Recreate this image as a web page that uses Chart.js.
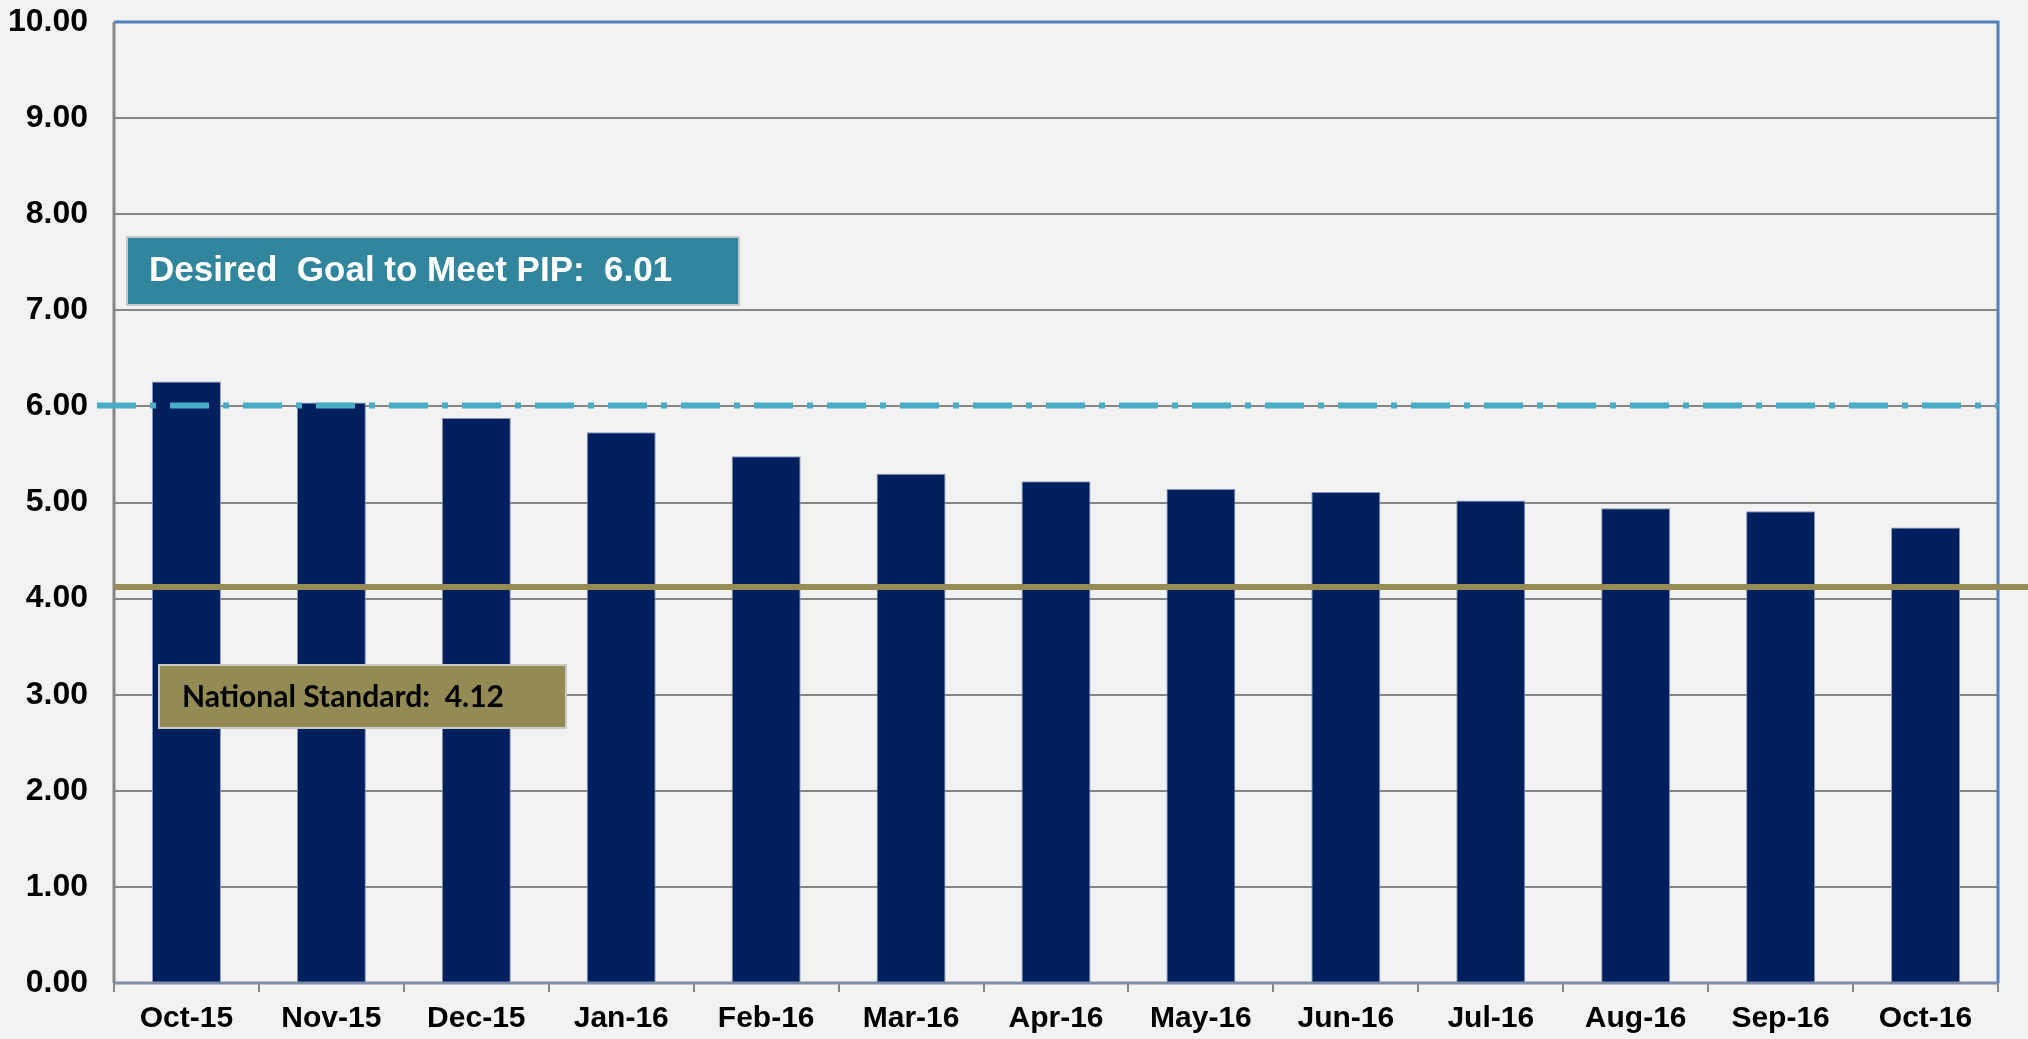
<!DOCTYPE html>
<html>
<head>
<meta charset="utf-8">
<script src="https://cdn.jsdelivr.net/npm/chart.js@4"></script>
<style>
  html, body { margin: 0; padding: 0; background: #f2f2f2; overflow: hidden; }
  canvas { display: block; }
</style>
</head>
<body>
<canvas id="chart" width="2028" height="1039"></canvas>
<script>
const months = ["Oct-15", "Nov-15", "Dec-15", "Jan-16", "Feb-16", "Mar-16", "Apr-16",
  "May-16", "Jun-16", "Jul-16", "Aug-16", "Sep-16", "Oct-16"];
const rates = [6.26, 6.04, 5.88, 5.73, 5.48, 5.30, 5.22, 5.14, 5.11, 5.02, 4.94, 4.91, 4.74];
const goalValue = 6.01;
const nationalValue = 4.12;
const goalText = "Desired  Goal to Meet PIP:  6.01";
const nationalText = "National Standard:  4.12";

const fontMain = "'Liberation Sans', Arial, sans-serif";

// frame, reference lines and the two text boxes
const overlay = {
  id: "overlay",
  beforeDraw(chart) {
    const c = chart.ctx;
    c.save();
    c.fillStyle = "#f2f2f2";
    c.fillRect(0, 0, chart.width, chart.height);
    c.restore();
  },
  afterDatasetsDraw(chart) {
    const c = chart.ctx;
    const a = chart.chartArea;
    const y = chart.scales.y;
    c.save();

    // plot frame
    c.lineWidth = 3;
    c.strokeStyle = "#4f81bd";
    c.beginPath();
    c.moveTo(a.left, a.top);
    c.lineTo(a.right, a.top);
    c.lineTo(a.right, a.bottom);
    c.stroke();
    c.strokeStyle = "#868686";
    c.beginPath();
    c.moveTo(a.left, a.top);
    c.lineTo(a.left, a.bottom);
    c.stroke();
    c.strokeStyle = "#7f8ea8";
    c.beginPath();
    c.moveTo(a.left, a.bottom);
    c.lineTo(a.right, a.bottom);
    c.stroke();

    // goal line (dash-dot)
    const gy = y.getPixelForValue(goalValue);
    c.strokeStyle = "#4bacc6";
    c.lineWidth = 6;
    c.setLineDash([39, 14, 6, 14]);
    c.beginPath();
    c.moveTo(97, gy);
    c.lineTo(a.right, gy);
    c.stroke();
    c.setLineDash([]);

    // national standard line
    const ny = y.getPixelForValue(nationalValue);
    c.strokeStyle = "#978c55";
    c.lineWidth = 6;
    c.beginPath();
    c.moveTo(a.left, ny);
    c.lineTo(chart.width, ny);
    c.stroke();

    // goal box
    c.fillStyle = "#31859c";
    c.fillRect(127, 237, 612, 68);
    c.strokeStyle = "#c8c8c8";
    c.lineWidth = 2;
    c.strokeRect(127, 237, 612, 68);
    c.fillStyle = "#ffffff";
    c.font = "bold 35px " + fontMain;
    c.textBaseline = "middle";
    c.textAlign = "left";
    c.fillText(goalText, 149, 271);

    // national box
    c.fillStyle = "#948a54";
    c.fillRect(159, 665, 407, 63);
    c.strokeStyle = "#c8c8c8";
    c.strokeRect(159, 665, 407, 63);
    c.fillStyle = "#000000";
    c.font = "bold 30px Lato, 'Open Sans', sans-serif";
    c.fillText(nationalText, 182, 697);

    c.restore();
  }
};

const ctx = document.getElementById("chart").getContext("2d");
new Chart(ctx, {
  type: "bar",
  data: {
    labels: months,
    datasets: [{
      label: "Rate",
      data: rates,
      backgroundColor: "#001f5f",
      borderColor: "#8796b4",
      borderWidth: 1,
      categoryPercentage: 1,
      barPercentage: 0.476
    }]
  },
  options: {
    responsive: false,
    animation: false,
    layout: { padding: { top: 22, right: 30, left: 0, bottom: 0 } },
    plugins: {
      legend: { display: false },
      tooltip: { enabled: false }
    },
    scales: {
      y: {
        min: 0,
        max: 10,
        afterFit: (s) => { s.width = 114; s.paddingTop = 0; s.paddingBottom = 0; },
        border: { display: false },
        grid: { color: "#868686", lineWidth: 2, drawTicks: false },
        ticks: {
          stepSize: 1,
          padding: 26,
          color: "#000000",
          font: { family: fontMain, size: 32, weight: "bold" },
          callback: (v) => Number(v).toFixed(2)
        }
      },
      x: {
        afterFit: (s) => { s.height = 56; },
        border: { display: false },
        grid: { drawOnChartArea: false, color: "#868686", lineWidth: 2, tickLength: 9, offset: true },
        ticks: {
          padding: 9,
          color: "#000000",
          font: { family: fontMain, size: 30, weight: "bold" }
        }
      }
    }
  },
  plugins: [overlay]
});
</script>
</body>
</html>
